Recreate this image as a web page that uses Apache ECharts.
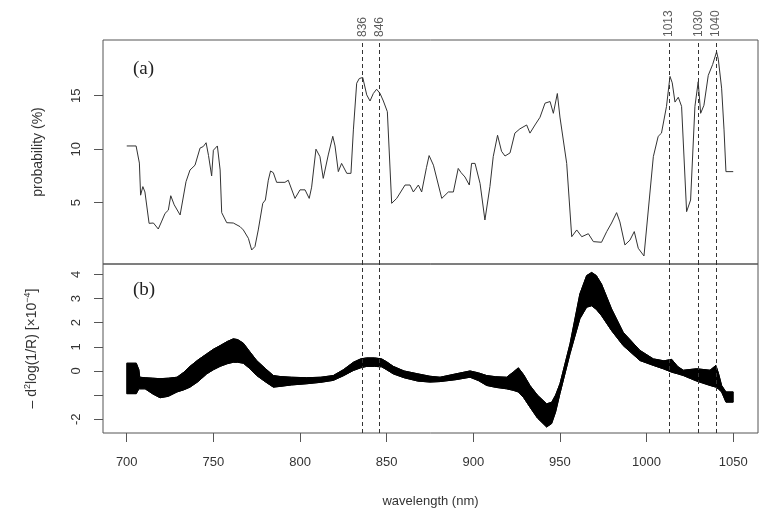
<!DOCTYPE html>
<html><head><meta charset="utf-8">
<script src="https://cdn.jsdelivr.net/npm/echarts/dist/echarts.min.js"></script>
<style>html,body{margin:0;padding:0;background:#fff}#c{width:768px;height:520px}</style>
</head><body><div id="c"></div>
<script>
// Panel (a): selection probability
const probWl = [700,705.4,707.3,708,709.3,710.5,712.9,715.4,718.2,720,722.1,724,725.4,727.4,730.8,734.2,736.5,739.4,742.3,744.2,745.8,747.2,749,750,752.3,753.9,754.8,757.7,761.5,765.4,767.3,770.2,772.1,774,775.9,778.5,780,781.7,783,784.6,786.5,791.3,793.2,797.1,800,802.9,805.3,806.7,809.2,811.5,813.4,816.3,818.9,820.2,822.1,824,827,829.4,830.8,832.7,834.2,836.2,838.5,840.4,842.3,844.2,846.2,848.1,850.4,852.9,855.8,860.6,863.5,865.4,868.3,870.2,873,874.5,877,881.8,885.6,888.5,891.3,893,895.2,897.7,899,901,903.9,906.7,909.6,911.5,914,916.3,918.3,921.2,924,926.9,930.8,932.7,935.6,938.5,941.4,944.3,946.2,948.5,950,953.9,956.8,959.7,962.6,966.4,969.3,974,977,979.8,982.7,984.6,987.5,990.4,992.9,995.2,998.5,1003.9,1006.7,1008.6,1011.5,1013.5,1014.8,1016.4,1018.3,1020.2,1023.1,1025.4,1027.9,1029.8,1031.2,1033.1,1035.6,1038.1,1040.4,1041.4,1043.3,1044.7,1045.8,1050];
const probVal = [10.3,10.3,8.7,5.7,6.5,6.0,3.07,3.1,2.54,3.2,4.0,4.3,5.65,4.8,3.85,6.96,8.05,8.5,10.1,10.25,10.6,9.4,7.5,9.9,10.3,8.06,4.07,3.13,3.1,2.76,2.45,1.67,0.58,0.9,2.45,4.94,5.25,7.1,7.96,7.8,6.9,6.9,7.1,5.4,6.2,6.2,5.4,6.45,10.0,9.3,7.27,9.46,11.2,10.3,7.9,8.67,7.74,7.74,11.8,16.16,16.6,16.7,15.07,14.5,15.2,15.6,15.2,14.5,13.5,4.94,5.4,6.65,6.65,6.0,6.65,6.0,8.3,9.4,8.5,5.4,6.0,6.0,8.2,7.8,7.4,6.65,8.67,8.67,6.8,3.38,6.5,9.3,11.3,9.8,9.36,9.65,11.5,11.9,12.26,11.5,12.26,12.98,14.3,14.45,13.35,15.2,13.0,8.67,1.82,2.45,1.82,2.1,1.36,1.3,2.3,3.1,4.07,3.2,1.05,1.5,2.3,0.74,0.02,9.3,11.2,11.5,14.0,16.8,16.2,14.4,14.85,14.0,4.16,5.25,14.0,16.3,13.35,14.1,16.9,17.9,19.1,18.4,15.7,11.8,7.9,7.9];
// Panel (b): envelope of second-derivative spectra
const bandWl   = [700,705.5,707,707.5,710.6,715,719.2,724,729,733,736.5,741,746.2,750,753.9,758,761.5,764,767.3,771,775,780,784.6,788.5,795,803.9,812,819.2,825,830.8,835,838.5,843,847.1,850,853.8,860,868,875,880.8,890,898.1,903,907.7,913,919.2,923,926,929,932.7,937,942.3,945.2,947.5,950,955.8,958.5,961.5,965.4,968.3,971,974,979.8,986.5,996.2,1003.9,1010,1014.5,1018,1021.2,1028.9,1036.6,1040,1041.5,1043.3,1045.8,1050];
const bandLow  = [-0.94,-0.94,-0.74,-0.74,-0.74,-0.95,-1.11,-1.05,-0.87,-0.78,-0.67,-0.45,-0.12,0.05,0.19,0.30,0.36,0.36,0.32,0.10,-0.19,-0.45,-0.67,-0.64,-0.58,-0.53,-0.47,-0.39,-0.20,0.02,0.13,0.19,0.19,0.17,0.05,-0.12,-0.28,-0.42,-0.46,-0.44,-0.36,-0.26,-0.40,-0.60,-0.68,-0.74,-0.80,-0.87,-1.10,-1.50,-1.95,-2.32,-2.18,-1.70,-0.94,0.71,1.40,2.16,2.64,2.70,2.55,2.29,1.67,1.05,0.43,0.23,0.08,-0.05,-0.12,-0.19,-0.42,-0.60,-0.67,-0.75,-0.87,-1.29,-1.29];
const bandHigh = [0.32,0.32,0.05,-0.26,-0.28,-0.30,-0.32,-0.30,-0.26,-0.05,0.19,0.45,0.71,0.90,1.05,1.22,1.33,1.30,1.15,0.80,0.43,0.10,-0.19,-0.23,-0.26,-0.28,-0.26,-0.19,0.05,0.36,0.50,0.54,0.54,0.50,0.38,0.19,0.0,-0.12,-0.22,-0.26,-0.12,0.0,-0.08,-0.19,-0.24,-0.26,-0.05,0.13,-0.15,-0.60,-1.0,-1.36,-1.30,-1.0,-0.53,1.12,2.10,3.19,3.95,4.08,3.95,3.60,2.57,1.60,0.85,0.50,0.42,0.48,0.18,0.03,0.09,0.03,0.23,-0.10,-0.60,-0.87,-0.87];
const markedWl = [836, 846, 1013, 1030, 1040];
const xTicks = [700, 750, 800, 850, 900, 950, 1000, 1050];
const probTicks = [5, 10, 15];
const bandTicks = [-2, -1, 0, 1, 2, 3, 4];
const bandTickLabels = [-2, 0, 1, 2, 3, 4];

const X_MIN = 686.3, X_MAX = 1064.3;
const PA_MIN = -0.73, PA_MAX = 20.2;
const PB_MIN = -2.57, PB_MAX = 4.43;
const FONT = 'Liberation Sans, Arial, sans-serif';
const TXT = '#333';
const AX = '#555';

const chart = echarts.init(document.getElementById('c'), null, {renderer: 'canvas'});
const pair = (xs, ys) => xs.map((x, i) => [x, ys[i]]);
const dashed = {
  symbol: ['none', 'none'], silent: true, animation: false,
  label: {show: false},
  lineStyle: {type: [4, 3], color: '#333', width: 1},
  data: markedWl.map(w => ({xAxis: w}))
};

chart.setOption({
  animation: false,
  backgroundColor: '#fff',
  title: [
    {text: '(a)', left: 128, top: 55, textStyle: {fontFamily: 'Liberation Serif, serif', fontSize: 19, fontWeight: 'normal', color: '#222'}},
    {text: '(b)', left: 128, top: 276, textStyle: {fontFamily: 'Liberation Serif, serif', fontSize: 19, fontWeight: 'normal', color: '#222'}}
  ],
  grid: [
    {left: 103, top: 40, width: 655, height: 224, show: true, borderColor: AX, borderWidth: 1, backgroundColor: 'transparent'},
    {left: 103, top: 264, width: 655, height: 169, show: true, borderColor: AX, borderWidth: 1, backgroundColor: 'transparent'}
  ],
  xAxis: [
    {gridIndex: 0, type: 'value', min: X_MIN, max: X_MAX, axisLine: {show: false, onZero: false}, axisTick: {show: false}, axisLabel: {show: false}, splitLine: {show: false}},
    {gridIndex: 1, type: 'value', min: X_MIN, max: X_MAX, position: 'bottom',
     axisLine: {show: false, onZero: false},
     axisTick: {show: true, length: 9, customValues: xTicks, lineStyle: {color: AX}},
     axisLabel: {customValues: xTicks, margin: 23, fontSize: 13, color: TXT, fontFamily: FONT, formatter: v => String(v)},
     splitLine: {show: false},
     name: 'wavelength (nm)', nameLocation: 'middle', nameGap: 62,
     nameTextStyle: {fontSize: 13, color: TXT, fontFamily: FONT}}
  ],
  yAxis: [
    {gridIndex: 0, type: 'value', min: PA_MIN, max: PA_MAX,
     axisLine: {show: false, onZero: false},
     axisTick: {show: true, length: 9, customValues: probTicks, lineStyle: {color: AX}},
     axisLabel: {customValues: probTicks, rotate: 90, margin: 20, fontSize: 13, color: TXT, fontFamily: FONT},
     splitLine: {show: false},
     name: 'probability (%)', nameLocation: 'middle', nameGap: 58,
     nameTextStyle: {fontSize: 14, color: TXT, fontFamily: FONT}},
    {gridIndex: 1, type: 'value', min: PB_MIN, max: PB_MAX,
     axisLine: {show: false, onZero: false},
     axisTick: {show: true, length: 9, customValues: bandTicks, lineStyle: {color: AX}},
     axisLabel: {customValues: bandTickLabels, rotate: 90, margin: 20, fontSize: 13, color: TXT, fontFamily: FONT},
     splitLine: {show: false},
     name: '{n|\u2013 d}{s|2}{n|log(1/R) [\u00d710}{s|\u22124}{n|]}', nameLocation: 'middle', nameGap: 62,
     nameTextStyle: {color: TXT, fontFamily: FONT, fontSize: 14,
       rich: {n: {fontSize: 14, lineHeight: 18, color: TXT, fontFamily: FONT},
              s: {fontSize: 9, lineHeight: 11, verticalAlign: 'top', color: TXT, fontFamily: FONT}}}}
  ],
  series: [
    {type: 'line', xAxisIndex: 0, yAxisIndex: 0, data: pair(probWl, probVal), symbol: 'none',
     lineStyle: {color: '#333', width: 1}, markLine: dashed, z: 3},
    {type: 'scatter', xAxisIndex: 0, yAxisIndex: 0, data: markedWl.map(w => [w, PA_MAX]), symbolSize: 0, clip: false,
     label: {show: true, position: 'top', distance: 3, rotate: 90, align: 'left', verticalAlign: 'middle',
             formatter: p => String(p.value[0]), fontSize: 12, color: TXT, fontFamily: FONT}},
    {type: 'custom', xAxisIndex: 1, yAxisIndex: 1, data: [[bandWl[0], bandLow[0]]], z: 2,
     renderItem: (params, api) => {
       const top = bandWl.map((w, i) => api.coord([w, bandHigh[i]]));
       const bot = bandWl.map((w, i) => api.coord([w, bandLow[i]])).reverse();
       return {type: 'polygon', shape: {points: top.concat(bot)}, style: {fill: '#000', stroke: '#000', lineWidth: 1}};
     }},
    {type: 'line', xAxisIndex: 1, yAxisIndex: 1, data: pair(bandWl, bandHigh), symbol: 'none',
     lineStyle: {color: '#000', width: 1}, markLine: dashed, z: 3},
    {type: 'line', xAxisIndex: 1, yAxisIndex: 1, data: pair(bandWl, bandLow), symbol: 'none',
     lineStyle: {color: '#000', width: 1}, z: 3}
  ]
});
</script></body></html>
